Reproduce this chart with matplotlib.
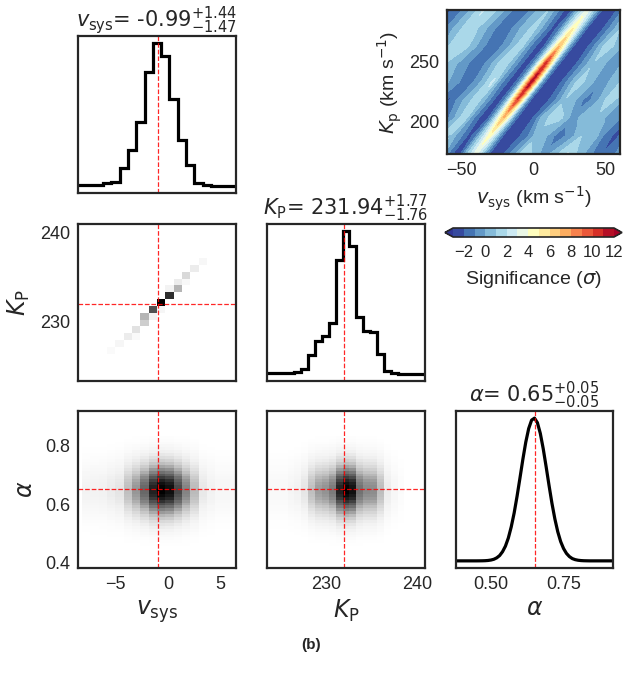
import numpy as np
import matplotlib.pyplot as plt

plt.rcParams['font.family'] = ['Liberation Sans', 'DejaVu Sans']
plt.rcParams['mathtext.fontset'] = 'dejavusans'
plt.rcParams['text.color'] = '.15'
plt.rcParams['axes.labelcolor'] = '.15'
plt.rcParams['xtick.color'] = '.15'
plt.rcParams['ytick.color'] = '.15'
plt.rcParams['axes.edgecolor'] = '.15'
plt.rcParams['axes.linewidth'] = 1.6

# ======================
# POSTERIOR SUMMARY
# ======================
vsys_med, vsys_up, vsys_lo = -0.99, 1.44, 1.47
kp_med, kp_up, kp_lo = 231.94, 1.77, 1.76
alpha_med, alpha_up, alpha_lo = 0.65, 0.05, 0.05

# marginal likelihood of v_sys (19 grid bins, -8.55 .. 6.45 km/s)
vsys_range = (-8.55, 6.45)
vsys_like = [0.010, 0.011, 0.013, 0.023, 0.035, 0.133, 0.253, 0.452, 0.801, 1.000,
             0.909, 0.609, 0.323, 0.148, 0.028, 0.012, 0.005, 0.005, 0.005]

# marginal likelihood of K_P (23 grid bins, 223.4 .. 240.9 km/s)
kp_range = (223.4, 240.9)
kp_like = [0.003, 0.003, 0.003, 0.007, 0.012, 0.033, 0.132, 0.229, 0.264, 0.358,
           0.795, 1.000, 0.899, 0.400, 0.300, 0.290, 0.139, 0.021, 0.005, 0.001,
           0.000, 0.000, 0.000]

# marginal likelihood of alpha
alpha_grid = [0.38, 0.39, 0.40, 0.41, 0.42, 0.43, 0.44, 0.45, 0.46, 0.47, 0.48,
              0.49, 0.50, 0.51, 0.52, 0.53, 0.54, 0.55, 0.56, 0.57, 0.58, 0.59,
              0.60, 0.61, 0.62, 0.63, 0.64, 0.65, 0.66, 0.67, 0.68, 0.69, 0.70,
              0.71, 0.72, 0.73, 0.74, 0.75, 0.76, 0.77, 0.78, 0.79, 0.80, 0.81,
              0.82, 0.83, 0.84, 0.85, 0.86, 0.87, 0.88, 0.89, 0.90, 0.91, 0.92]
alpha_like = [0.0, 0.0, 0.0, 0.0, 0.0, 0.0, 0.0, 0.0, 0.0002, 0.0005, 0.0012,
              0.0027, 0.0057, 0.011, 0.021, 0.037, 0.064, 0.103, 0.160, 0.238,
              0.335, 0.452, 0.580, 0.711, 0.831, 0.926, 0.985, 0.999, 0.967,
              0.892, 0.785, 0.659, 0.528, 0.403, 0.294, 0.204, 0.135, 0.086,
              0.052, 0.030, 0.016, 0.0085, 0.0043, 0.0020, 0.0009, 0.0004,
              0.0, 0.0, 0.0, 0.0, 0.0, 0.0, 0.0, 0.0, 0.0]

# joint K_P - v_sys likelihood: occupied grid cells (v_sys, K_P, weight)
kv_vsys = [-0.61, -1.40, 0.18, 0.97, 0.97, 0.18, 1.76, 2.55, 3.34, -2.19, -2.19,
           -2.98, -3.77, -4.56, -5.34, -1.40, -0.61, 1.76, -2.98]
kv_kp = [232.32, 231.56, 233.08, 233.84, 234.60, 233.84, 235.36, 236.13, 236.89,
         230.80, 230.04, 229.28, 228.52, 227.76, 227.00, 230.80, 231.56, 234.60, 228.52]
kv_w = [1.00, 0.75, 0.85, 0.40, 0.15, 0.10, 0.25, 0.15, 0.07, 0.40, 0.30,
        0.20, 0.15, 0.08, 0.04, 0.10, 0.08, 0.06, 0.05]

# cross-correlation significance map, sampled along the planet trail:
# each K_p row has its ridge centre in v_sys, values are given at offsets from it
map_kp = [173, 188, 203, 218, 233, 248, 263, 278, 293]
ridge_vsys = [-40.5, -30.8, -21.0, -11.3, -1.5, 8.2, 18.0, 27.7, 37.5]
ridge_offset = [-105, -96, -88, -80, -72, -64, -56, -48, -40, -33, -27, -22, -18,
                -14, -10, -7, -3.5, 0, 3.5, 7, 10, 14, 18, 22, 27, 33, 40, 48,
                56, 64, 72, 80, 88, 96, 105]
significance = [
    [-1.0, -2.0, -1.2, 0.4, 1.8, 1.2, -0.3, -1.5, -1.0, 0.3, 1.6, 0.2, -1.3, -2.5, -2.0, 0.3, 1.8, 3.5, 1.8, -0.3, -2.0, -2.6, -2.4, -1.5, -0.2, 1.8, 0.9, -0.6, 0.8, 2.1, 0.6, -0.8, -2.0, -1.2, 0.3],
    [-1.2, -2.3, -0.8, 0.6, 1.6, 0.2, -1.3, -2.0, -0.2, 1.1, 0.9, -0.4, -1.2, -2.4, -1.6, 0.4, 2.3, 4.5, 2.3, -0.4, -2.3, -2.8, -2.6, -1.9, -1.0, 0.6, 0.0, -1.6, -0.6, 1.0, 0.9, -1.3, -2.4, -0.8, 0.7],
    [-0.8, -2.0, -1.3, 0.2, 2.4, 1.2, 0.3, -1.6, -1.5, 0.2, 1.9, -0.5, -1.7, -2.7, -1.9, 0.3, 3.5, 7.0, 3.5, -0.3, -2.1, -2.7, -2.7, -1.6, 0.4, 1.3, 1.2, -0.5, 0.5, 0.6, -0.2, -0.7, -2.1, -1.3, 0.2],
    [-1.1, -2.4, -0.9, 0.7, 1.1, 0.8, -0.7, -2.3, -0.5, 0.9, 1.4, -0.1, -1.4, -2.8, -1.7, 0.5, 5.0, 10.0, 5.0, -0.2, -2.4, -2.8, -2.5, -2.0, -0.9, 0.9, 0.1, -1.5, -0.1, 1.7, 0.2, -1.2, -2.6, -0.9, 0.6],
    [-0.9, -2.1, -1.1, 0.4, 2.1, 1.6, -0.4, -1.2, -1.0, 0.4, 2.2, -0.4, -1.6, -2.6, -1.8, 0.6, 5.8, 11.5, 5.8, 0.0, -2.2, -2.9, -2.6, -1.7, -0.2, 1.6, 0.4, -0.7, 0.3, 1.3, 1.0, -0.4, -2.2, -1.1, 0.4],
    [-1.2, -2.2, -0.8, 0.6, 1.2, 0.3, -0.6, -1.9, -0.7, 1.0, 1.3, -0.2, -1.5, -2.7, -1.7, 0.5, 5.2, 10.5, 5.2, -0.2, -2.2, -2.8, -2.6, -1.9, -0.4, 0.8, 0.2, -0.9, 0.6, 1.1, 0.2, -1.1, -2.3, -1.0, 0.5],
    [-0.9, -2.0, -1.2, 0.3, 2.0, 1.2, -0.3, -1.6, -1.0, 0.3, 1.8, -0.4, -1.6, -2.5, -1.9, 0.4, 3.6, 7.0, 3.6, -0.2, -2.1, -2.6, -2.5, -1.6, -0.1, 1.9, 0.5, -0.6, 0.4, 1.4, 0.5, -0.8, -2.1, -1.2, 0.3],
    [-1.1, -2.3, -0.9, 0.6, 1.8, 0.7, -0.7, -2.0, -0.6, 0.7, 1.3, 0.0, -1.3, -2.4, -1.6, 0.3, 2.6, 5.0, 2.6, -0.3, -2.3, -2.7, -2.6, -1.8, -0.4, 0.9, 0.1, -1.0, 0.0, 1.0, 0.1, -1.2, -2.4, -0.9, 0.6],
    [-0.8, -2.1, -1.2, 0.3, 2.1, 1.1, -0.3, -1.7, -1.0, 0.4, 1.0, -0.4, -1.5, -2.6, -1.9, 0.3, 1.8, 3.5, 1.8, -0.3, -2.0, -2.6, -2.5, -1.6, -0.2, 1.2, 0.5, -0.6, 0.4, 1.4, 0.5, -0.8, -2.0, -1.2, 0.3],
]
sig_ticks = [-2, 0, 2, 4, 6, 8, 10, 12]

# ======================
# GRIDS
# ======================
vsys_edges = np.linspace(vsys_range[0], vsys_range[1], len(vsys_like) + 1)
kp_edges = np.linspace(kp_range[0], kp_range[1], len(kp_like) + 1)
kp_centers = 0.5 * (kp_edges[1:] + kp_edges[:-1])
half_v = 0.5 * (vsys_edges[1] - vsys_edges[0])
vsys_edges2d = vsys_edges + half_v     # image grid sits half a bin to the right
alpha_range = (alpha_grid[0], alpha_grid[-1])

map_x = np.add.outer(ridge_vsys, ridge_offset)
map_y = np.repeat(np.array(map_kp, dtype=float)[:, None], len(ridge_offset), axis=1)

# ======================
# FIGURE
# ======================
W, H = 623, 687
fig = plt.figure(figsize=(W / 100, H / 100), dpi=100)


def box(x0, y0, x1, y1):
    return [x0 / W, 1 - y1 / H, (x1 - x0) / W, (y1 - y0) / H]


ax_v = fig.add_axes(box(78, 36, 236, 193))
ax_kv = fig.add_axes(box(78, 224, 236, 381))
ax_k = fig.add_axes(box(267, 224, 425, 381))
ax_av = fig.add_axes(box(78, 411, 236, 568))
ax_ak = fig.add_axes(box(267, 411, 425, 568))
ax_a = fig.add_axes(box(456, 411, 613, 568))
ax_map = fig.add_axes(box(447, 10, 620, 154))
cax = fig.add_axes(box(445, 228, 622, 237))

red = dict(color='red', lw=0.9, ls='--', alpha=0.85)
title_kw = dict(fontsize=15, pad=6, family='DejaVu Sans')

for ax in [ax_v, ax_kv, ax_k, ax_av, ax_ak, ax_a, ax_map]:
    ax.tick_params(length=0, labelsize=13, pad=5.5)
    ax.set_xticks([])
    ax.set_yticks([])

# 1D marginals
ax_v.stairs(vsys_like, vsys_edges, baseline=None, color='k', lw=2.3)
ax_v.axvline(vsys_med, **red)
ax_v.set_xlim(vsys_range)
ax_v.set_title(r'$v_{\rm sys}$= %.2f$^{+%.2f}_{-%.2f}$' % (vsys_med, vsys_up, vsys_lo),
               **title_kw)

ax_k.stairs(kp_like, kp_edges, baseline=None, color='k', lw=2.3)
ax_k.axvline(kp_med, **red)
ax_k.set_xlim(kp_range)
ax_k.set_title(r'$K_{\rm P}$= %.2f$^{+%.2f}_{-%.2f}$' % (kp_med, kp_up, kp_lo),
               **title_kw)

ax_a.plot(alpha_grid, alpha_like, color='k', lw=2.3)
ax_a.axvline(alpha_med, **red)
ax_a.set_xlim(alpha_range)
ax_a.set_xticks([0.50, 0.75])
ax_a.set_xticklabels(['0.50', '0.75'])
ax_a.set_xlabel(r'$\alpha$', fontsize=17)
ax_a.set_title(r'$\alpha$= %.2f$^{+%.2f}_{-%.2f}$' % (alpha_med, alpha_up, alpha_lo),
               **title_kw)

# joint K_P - v_sys
ax_kv.hist2d(kv_vsys, kv_kp, bins=[vsys_edges2d, kp_edges], weights=kv_w,
             cmap='Greys', vmin=0, vmax=1)
ax_kv.axvline(vsys_med, **red)
ax_kv.axhline(kp_med, **red)
ax_kv.set_xlim(vsys_range)
ax_kv.set_ylim(kp_range)
ax_kv.set_yticks([230, 240])
ax_kv.set_ylabel(r'$K_{\rm P}$', fontsize=17, labelpad=6)

# joint alpha - v_sys (shown on a square-root stretch)
z_av = np.sqrt(np.outer(alpha_like, vsys_like))
ax_av.pcolormesh(vsys_edges[1:], alpha_grid, z_av, cmap='Greys', shading='nearest',
                 vmin=0, vmax=z_av.max())
ax_av.axvline(vsys_med, **red)
ax_av.axhline(alpha_med, **red)
ax_av.set_xlim(vsys_range)
ax_av.set_ylim(alpha_range)
ax_av.set_xticks([-5, 0, 5])
ax_av.set_xticklabels(['\u22125', '0', '5'])
ax_av.set_yticks([0.4, 0.6, 0.8])
ax_av.set_xlabel(r'$v_{\rm sys}$', fontsize=17)
ax_av.set_ylabel(r'$\alpha$', fontsize=17, labelpad=6)

# joint alpha - K_P
z_ak = np.sqrt(np.outer(alpha_like, kp_like))
ax_ak.pcolormesh(kp_centers, alpha_grid, z_ak, cmap='Greys', shading='nearest',
                 vmin=0, vmax=z_ak.max())
ax_ak.axvline(kp_med, **red)
ax_ak.axhline(alpha_med, **red)
ax_ak.set_xlim(kp_range)
ax_ak.set_ylim(alpha_range)
ax_ak.set_xticks([230, 240])
ax_ak.set_xlabel(r'$K_{\rm P}$', fontsize=17)

# significance map
cs = ax_map.contourf(map_x, map_y, significance, levels=np.arange(-3, 13, 1),
                     cmap='RdYlBu_r', extend='both')
ax_map.set_xlim(-60, 60)
ax_map.set_ylim(173, 293)
ax_map.set_xticks([-50, 0, 50])
ax_map.set_xticklabels(['\u221250', '0', '50'])
ax_map.set_yticks([200, 250])
ax_map.set_xlabel(r'$v_{\rm sys}$ (km s$^{-1}$)', fontsize=14)
ax_map.set_ylabel(r'$K_{\rm p}$ (km s$^{-1}$)', fontsize=14)

cbar = fig.colorbar(cs, cax=cax, orientation='horizontal', ticks=sig_ticks)
cbar.outline.set_linewidth(1.2)
cax.tick_params(length=0, labelsize=12, pad=6)
cbar.set_label(r'Significance ($\sigma$)', fontsize=14, labelpad=6)

fig.text(0.5, 1 - 645 / H, '(b)', ha='center', va='center', fontsize=11,
         fontweight='bold')

plt.savefig('out.png', dpi=100)
plt.close()
